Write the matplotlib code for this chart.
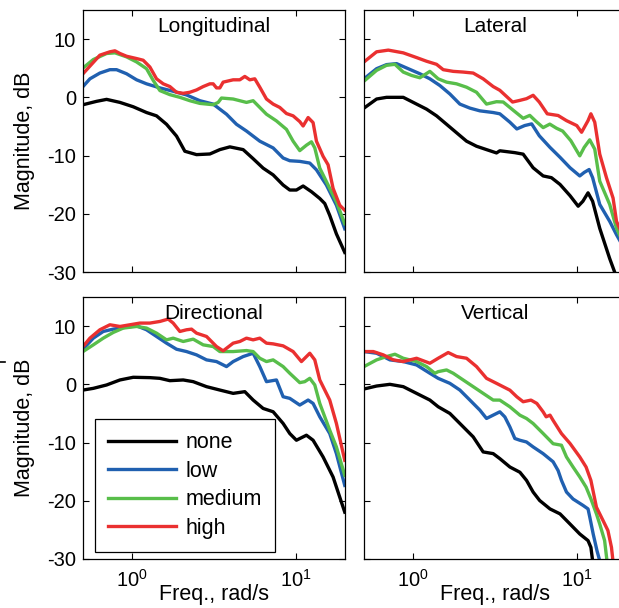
import matplotlib
matplotlib.use("Agg")
import matplotlib.pyplot as plt
from matplotlib.ticker import FixedLocator, NullLocator, LogFormatterSciNotation
from matplotlib.lines import Line2D

plt.rcParams['font.family'] = ['Liberation Sans', 'DejaVu Sans']
plt.rcParams['mathtext.fontset'] = 'custom'
plt.rcParams['mathtext.rm'] = 'Liberation Sans'
plt.rcParams['mathtext.it'] = 'Liberation Sans'
plt.rcParams['mathtext.bf'] = 'Liberation Sans'
plt.rcParams['axes.unicode_minus'] = False

# ---------------- data (rad/s, dB) ----------------
titles = ["Longitudinal", "Lateral", "Directional", "Vertical"]
series_names = ["none", "low", "medium", "high"]

# Longitudinal
lon_none_f = [0.50, 0.605, 0.697, 0.841, 1.014, 1.223, 1.408, 1.621, 1.866, 2.098, 2.473, 2.983, 3.433, 3.952, 4.767, 5.487, 6.316, 7.270, 8.368, 9.190, 10.09, 11.09, 12.47, 14.02, 15.04, 16.13, 17.72, 19.93]
lon_none_db = [-1.27, -0.69, -0.35, -0.87, -1.62, -2.61, -3.18, -4.63, -6.66, -9.26, -9.84, -9.73, -8.98, -8.51, -8.98, -10.54, -12.16, -13.32, -15.06, -15.92, -15.92, -15.23, -16.21, -17.37, -18.24, -20.27, -23.45, -26.64]
lon_low_f = [0.50, 0.551, 0.634, 0.730, 0.802, 0.923, 1.063, 1.223, 1.476, 1.780, 2.148, 2.591, 3.126, 3.771, 4.340, 4.995, 6.026, 7.270, 8.368, 9.190, 10.58, 12.18, 13.38, 15.39, 17.72, 19.93]
lon_low_db = [1.85, 3.18, 4.17, 4.75, 4.75, 4.05, 3.01, 2.32, 1.62, 1.04, 0.41, -0.58, -1.16, -2.90, -4.63, -5.79, -7.53, -8.69, -10.42, -10.89, -11.00, -11.29, -12.45, -15.06, -18.53, -22.58]
lon_med_f = [0.50, 0.578, 0.697, 0.784, 0.923, 1.063, 1.223, 1.344, 1.476, 1.699, 1.956, 2.251, 2.591, 3.126, 3.354, 3.514, 4.141, 4.995, 5.487, 6.026, 6.620, 7.618, 8.770, 9.632, 10.58, 11.62, 12.47, 13.07, 14.02, 16.13, 17.72, 19.93]
lon_med_db = [5.04, 6.49, 7.53, 7.64, 6.95, 6.08, 4.92, 2.90, 1.16, 0.46, 0.0, -0.58, -1.04, -1.27, -0.87, -0.12, -0.29, -0.87, -0.58, -1.74, -2.90, -4.05, -5.50, -7.53, -9.15, -8.22, -7.64, -8.69, -12.16, -15.63, -17.95, -21.71]
lon_high_f = [0.50, 0.634, 0.730, 0.784, 0.841, 0.923, 1.063, 1.167, 1.282, 1.408, 1.547, 1.699, 1.866, 2.050, 2.251, 2.473, 2.716, 2.983, 3.126, 3.276, 3.433, 3.597, 4.141, 4.549, 4.880, 5.236, 5.617, 6.026, 6.620, 7.270, 7.986, 8.770, 9.632, 10.58, 11.09, 11.90, 12.76, 13.38, 14.69, 15.76, 16.91, 18.57, 19.93]
lon_high_db = [4.05, 7.24, 7.82, 7.99, 7.53, 7.06, 6.66, 6.37, 5.21, 3.18, 2.32, 1.85, 0.87, 0.69, 0.87, 1.27, 1.85, 2.32, 2.32, 1.62, 1.62, 2.61, 3.01, 3.01, 3.59, 3.01, 3.18, 1.74, -0.29, -1.16, -1.74, -2.78, -3.18, -4.17, -4.92, -3.47, -4.34, -7.53, -10.13, -11.58, -15.63, -18.53, -19.40]

# Lateral
lat_none_f = [0.50, 0.597, 0.687, 0.869, 1.0, 1.206, 1.389, 1.599, 1.840, 2.118, 2.438, 2.806, 3.230, 3.385, 4.18, 4.7, 5.41, 6.23, 7.0, 7.9, 9.1, 10.2, 10.9, 11.72, 12.5, 13.82, 15.9, 17.3, 20.0]
lat_none_db = [-1.85, -0.29, 0.0, 0.0, -0.87, -2.03, -3.18, -4.63, -6.08, -7.53, -8.40, -8.98, -9.55, -9.18, -9.5, -9.76, -12.1, -13.5, -13.8, -14.96, -16.9, -18.7, -17.85, -16.4, -17.85, -22.5, -27.7, -30.5, -34.0]
lat_low_f = [0.50, 0.597, 0.687, 0.791, 0.932, 1.098, 1.264, 1.455, 1.675, 1.928, 2.220, 2.555, 3.082, 3.385, 3.9, 4.3, 4.8, 5.3, 5.9, 6.86, 7.9, 9.1, 10.43, 11.1, 11.9, 12.5, 13.82, 15.9, 17.5, 20.0]
lat_low_db = [3.18, 4.92, 5.62, 5.79, 4.92, 4.05, 3.18, 2.03, 0.58, -1.16, -1.85, -2.32, -2.61, -2.83, -4.27, -5.43, -4.85, -4.56, -6.6, -8.6, -10.3, -12.1, -13.5, -12.9, -12.4, -13.8, -18.4, -21.3, -23.6, -26.5]
lat_med_f = [0.50, 0.597, 0.687, 0.773, 0.869, 0.977, 1.098, 1.264, 1.421, 1.599, 1.840, 2.118, 2.438, 2.806, 3.230, 3.548, 4.08, 4.7, 5.16, 5.67, 6.23, 6.84, 7.51, 8.2, 9.2, 10.43, 11.1, 12.0, 12.88, 13.82, 15.9, 17.5, 20.0]
lat_med_db = [2.78, 4.63, 5.50, 5.67, 4.34, 3.76, 3.36, 4.46, 3.18, 2.61, 2.32, 1.74, 0.87, -1.16, -0.75, -0.8, -2.2, -3.6, -3.1, -4.2, -5.2, -4.6, -5.3, -5.8, -7.45, -10.05, -8.6, -7.3, -8.9, -14.4, -18.4, -22.5, -26.0]
lat_high_f = [0.50, 0.597, 0.704, 0.869, 1.048, 1.206, 1.389, 1.525, 1.756, 2.021, 2.326, 2.677, 3.082, 3.385, 4.05, 4.49, 4.93, 5.41, 5.9, 6.6, 7.69, 8.65, 10.0, 10.7, 11.72, 12.2, 12.88, 13.82, 15.19, 16.67, 17.5, 20.0]
lat_high_db = [6.08, 7.82, 8.11, 7.64, 6.83, 6.20, 5.67, 4.75, 4.46, 4.34, 4.17, 3.18, 1.85, 1.21, -0.81, -0.52, -0.23, 0.35, -0.81, -2.83, -3.12, -4.0, -4.85, -6.0, -4.0, -2.83, -4.27, -9.76, -13.8, -17.3, -21.3, -25.0]

# Directional
dir_none_f = [0.50, 0.578, 0.697, 0.841, 1.014, 1.282, 1.476, 1.699, 2.050, 2.359, 2.846, 3.433, 4.141, 4.880, 5.487, 6.316, 7.270, 8.368, 9.190, 10.09, 11.62, 12.76, 14.69, 16.91, 18.57, 19.93]
dir_none_db = [-0.98, -0.69, -0.11, 0.75, 1.21, 1.15, 1.03, 0.63, 0.75, 0.46, -0.40, -0.98, -1.55, -1.26, -2.70, -4.14, -4.71, -6.72, -8.45, -9.60, -8.74, -9.60, -12.47, -15.92, -19.37, -21.95]
dir_low_f = [0.50, 0.578, 0.665, 0.765, 0.923, 1.063, 1.223, 1.408, 1.621, 1.866, 2.148, 2.473, 2.846, 3.276, 3.771, 4.141, 4.767, 5.487, 6.026, 6.620, 7.618, 8.368, 9.190, 10.58, 11.90, 12.76, 14.02, 16.13, 17.72, 19.93]
dir_low_db = [6.03, 7.93, 9.08, 9.48, 9.83, 10.06, 9.37, 8.22, 7.07, 6.03, 5.63, 5.06, 4.20, 3.91, 3.05, 3.91, 4.77, 5.34, 3.05, 0.46, 0.75, -2.13, -2.41, -3.56, -2.70, -3.28, -5.57, -8.45, -11.90, -17.36]
dir_med_f = [0.50, 0.578, 0.665, 0.765, 0.881, 1.063, 1.223, 1.408, 1.621, 1.780, 2.050, 2.359, 2.716, 3.126, 3.433, 4.141, 4.995, 5.487, 6.026, 6.620, 7.270, 8.368, 9.190, 10.58, 11.35, 12.18, 13.07, 14.02, 16.13, 17.72, 19.93]
dir_med_db = [5.63, 6.78, 7.93, 8.91, 9.66, 9.94, 9.66, 8.79, 7.64, 7.93, 7.36, 7.76, 6.78, 6.49, 5.63, 5.63, 5.80, 5.63, 4.48, 3.91, 4.20, 3.05, 1.90, 0.29, 0.46, 1.03, -0.11, -3.28, -7.87, -10.75, -15.63]
dir_high_f = [0.50, 0.551, 0.634, 0.730, 0.841, 0.968, 1.114, 1.282, 1.476, 1.660, 1.780, 1.956, 2.148, 2.305, 2.473, 2.846, 3.276, 3.597, 4.141, 4.549, 4.995, 5.487, 6.026, 6.620, 7.270, 8.368, 9.632, 10.83, 12.18, 13.07, 14.02, 16.13, 17.72, 19.93]
dir_high_db = [6.49, 7.93, 9.37, 10.23, 9.94, 10.23, 10.52, 10.52, 10.80, 11.21, 10.52, 9.08, 9.37, 9.48, 8.79, 8.22, 6.49, 5.75, 7.07, 7.36, 7.93, 7.64, 7.93, 7.07, 6.95, 6.61, 5.63, 3.91, 5.34, 4.20, 0.75, -2.70, -6.72, -13.05]

# Vertical
ver_none_f = [0.50, 0.597, 0.720, 0.869, 1.048, 1.264, 1.421, 1.675, 1.928, 2.326, 2.677, 3.082, 3.385, 3.9, 4.49, 4.93, 5.41, 5.93, 6.86, 7.9, 9.1, 10.43, 11.72, 12.2, 12.5, 12.8]
ver_none_db = [-0.80, -0.29, 0.0, -0.40, -1.55, -2.70, -3.85, -5.00, -6.72, -9.02, -11.61, -11.90, -12.76, -14.2, -15.1, -16.5, -18.5, -19.95, -21.4, -22.25, -24.0, -25.7, -26.84, -28.0, -30.3, -33.0]
ver_low_f = [0.50, 0.597, 0.720, 0.869, 1.048, 1.264, 1.421, 1.675, 1.928, 2.220, 2.555, 2.806, 3.082, 3.385, 3.633, 3.897, 4.181, 4.485, 4.926, 5.41, 6.225, 7.166, 7.686, 8.064, 8.652, 9.494, 10.93, 11.72, 12.01, 12.6, 13.3, 13.82, 14.2]
ver_low_db = [5.63, 5.34, 4.20, 3.91, 3.33, 1.90, 1.03, 0.17, -0.98, -2.70, -4.43, -5.86, -5.29, -4.72, -5.6, -7.3, -9.3, -9.6, -9.9, -10.75, -11.9, -13.3, -14.8, -16.5, -18.5, -19.7, -20.8, -21.4, -22.8, -25.7, -28.6, -30.3, -33.0]
ver_med_f = [0.50, 0.597, 0.687, 0.773, 0.869, 1.048, 1.206, 1.356, 1.421, 1.599, 1.756, 2.021, 2.326, 2.677, 3.082, 3.385, 3.9, 4.49, 4.93, 5.41, 6.23, 7.17, 8.06, 8.65, 9.49, 10.43, 11.4, 12.2, 13.19, 13.82, 14.8, 15.3, 15.8]
ver_med_db = [3.05, 4.20, 4.77, 5.17, 4.48, 3.91, 3.05, 1.90, 2.18, 2.47, 1.90, 0.75, -0.40, -1.55, -2.70, -2.71, -3.86, -5.3, -5.87, -6.73, -8.45, -10.2, -10.46, -12.47, -14.2, -15.9, -17.65, -19.66, -22.25, -24.0, -26.84, -30.3, -33.0]
ver_high_f = [0.50, 0.570, 0.656, 0.755, 0.869, 1.048, 1.264, 1.421, 1.636, 1.840, 2.118, 2.438, 2.806, 3.230, 3.9, 4.3, 4.7, 5.25, 5.7, 6.225, 6.5, 6.86, 7.17, 8.06, 9.1, 10.43, 11.4, 12.2, 13.19, 14.48, 15.5, 16.3, 16.9]
ver_high_db = [5.63, 5.63, 5.06, 4.20, 3.91, 4.48, 3.62, 4.48, 5.46, 4.77, 4.48, 3.05, 1.03, 0.17, -1.0, -2.14, -2.99, -2.71, -3.28, -4.72, -5.58, -5.29, -6.2, -8.45, -10.17, -12.47, -14.2, -16.5, -21.1, -23.4, -25.1, -28.0, -32.0]

xlim = (0.5, 20.0)
ylim = (-30, 15)
yticks = [-30, -20, -10, 0, 10]
xticks = [1, 10]
colors = ["#000000", "#2060b0", "#58be4a", "#ea3030"]

panels = [
    [(lon_none_f, lon_none_db), (lon_low_f, lon_low_db), (lon_med_f, lon_med_db), (lon_high_f, lon_high_db)],
    [(lat_none_f, lat_none_db), (lat_low_f, lat_low_db), (lat_med_f, lat_med_db), (lat_high_f, lat_high_db)],
    [(dir_none_f, dir_none_db), (dir_low_f, dir_low_db), (dir_med_f, dir_med_db), (dir_high_f, dir_high_db)],
    [(ver_none_f, ver_none_db), (ver_low_f, ver_low_db), (ver_med_f, ver_med_db), (ver_high_f, ver_high_db)],
]

W, H = 619, 608
fig = plt.figure(figsize=(W / 100, H / 100), dpi=100)

aw, ah = 262 / W, 262 / H
lefts = [83 / W, 364 / W]
bottoms = [1 - 272 / H, 1 - 559 / H]

FS = 15
for i, (title, data) in enumerate(zip(titles, panels)):
    r, c = divmod(i, 2)
    ax = fig.add_axes([lefts[c], bottoms[r], aw, ah])
    for (f, db), col, name in zip(data, colors, series_names):
        ax.plot(f, db, color=col, lw=2.4, label=name, solid_joinstyle='round')
    ax.set_xscale('log')
    ax.set_xlim(*xlim)
    ax.set_ylim(*ylim)
    ax.xaxis.set_major_locator(FixedLocator(xticks))
    ax.xaxis.set_minor_locator(NullLocator())
    ax.xaxis.set_major_formatter(LogFormatterSciNotation())
    ax.set_yticks(yticks)
    ax.tick_params(axis='both', direction='in', length=4, width=0.8, top=True, right=True,
                   labelsize=14.5)
    ax.tick_params(axis='x', pad=7)
    ax.tick_params(axis='y', pad=5)
    for s in ax.spines.values():
        s.set_linewidth(0.9)
    ax.text(0.5, 0.915, title, transform=ax.transAxes, ha='center', va='baseline', fontsize=FS)
    if c == 0:
        ax.set_ylabel("Magnitude, dB", fontsize=15.5)
        ax.yaxis.set_label_coords(-0.185, 0.5)
    else:
        ax.set_yticklabels([])
    if r == 1:
        ax.set_xlabel("Freq., rad/s", fontsize=15.5)
        ax.xaxis.set_label_coords(0.5, -0.095)
    else:
        ax.set_xticklabels([])
    if i == 2:
        leg = ax.legend(loc='lower left', bbox_to_anchor=(0.046, 0.027), borderaxespad=0,
                        fontsize=15.5, handlelength=3.15, handletextpad=0.45,
                        labelspacing=0.35, borderpad=0.6, fancybox=False,
                        framealpha=1, edgecolor='black')
        leg.get_frame().set_linewidth(0.9)

fig.add_artist(Line2D([0, 5 / W], [1 - 362 / H, 1 - 362 / H], color='black', lw=1.2))

fig.savefig("out.png", dpi=100)
